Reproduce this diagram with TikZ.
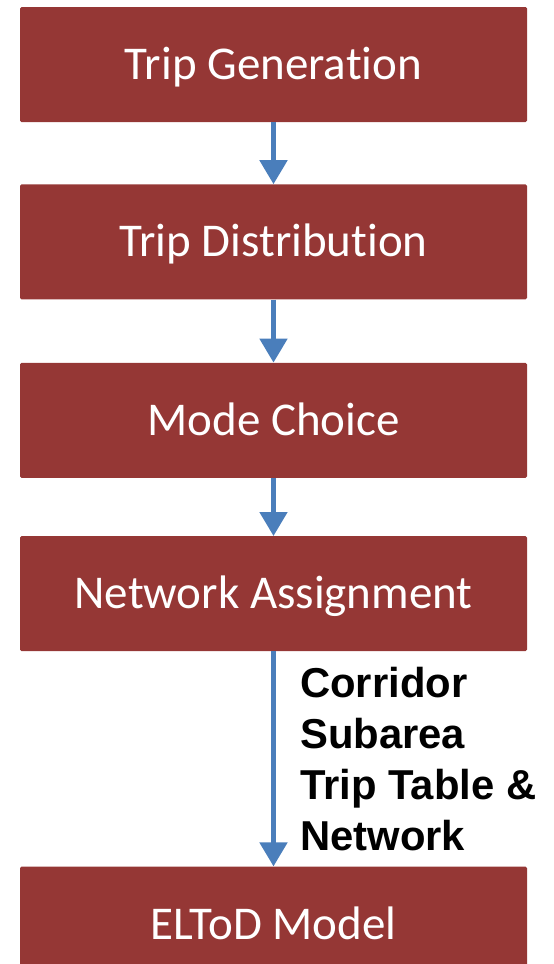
\documentclass[tikz,border=0pt]{standalone}
\usepackage{fontspec}
\setmainfont[Ligatures={NoCommon,NoContextual,NoRare}]{Carlito}
\newfontfamily\labelfont{Liberation Sans}
\usetikzlibrary{positioning,arrows.meta}

\definecolor{stepred}{RGB}{149,55,53}
\definecolor{flowblue}{RGB}{74,126,187}

\begin{document}
\begin{tikzpicture}[x=1pt, y=1pt, stage/.style={rectangle, rounded corners=1.5pt, fill=stepred, text=white, minimum width=507pt, minimum height=115pt, inner sep=0pt, text height=30pt, text depth=0pt, font=\fontsize{47}{56}\selectfont}, flow/.style={-{Triangle[width=27pt,length=24pt]}, line width=5pt, draw=flowblue}, note/.style={align=left, inner sep=0pt, font=\labelfont\bfseries\fontsize{41.8}{51}\selectfont}]
      \useasboundingbox (0,0) rectangle (554,-964);

      \node [stage] (tripgen) at (273.5,-64.5) {Trip Generation};

      \node [stage, below = 62pt of tripgen] (tripdist) {Trip Distribution};

      \node [stage, below = 63pt of tripdist] (modechoice) {Mode Choice};

      \node [stage, below = 58pt of modechoice] (netassign) {Network Assignment};

      \node [stage, below = 215pt of netassign] (eltod) {ELToD Model};

      \node [note, anchor=north west] (tables) at ([xshift=26.5pt, yshift=-16pt]netassign.south) {Corridor\\Subarea\\Trip Table \&\\Network};

      \draw[flow] (tripgen) -- (tripdist);

      \draw[flow] (tripdist) -- (modechoice);

      \draw[flow] (modechoice) -- (netassign);

      \draw[flow] (netassign) -- (eltod);
    \end{tikzpicture}
\end{document}
